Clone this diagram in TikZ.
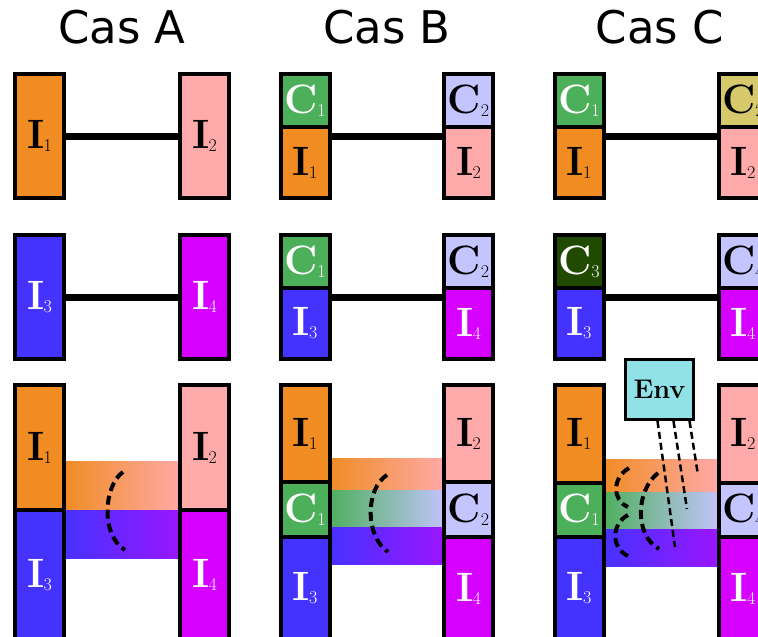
\documentclass[tikz,border=0pt]{standalone}
\usepackage{fontspec}
\newfontfamily\titlefont{DejaVu Sans}
\definecolor{cOr}{HTML}{F08C22}
\definecolor{cPk}{HTML}{FFAAAA}
\definecolor{cBl}{HTML}{4433FF}
\definecolor{cMg}{HTML}{D500FF}
\definecolor{cMb}{HTML}{9C14FF}
\definecolor{cGr}{HTML}{4CAF5A}
\definecolor{cLv}{HTML}{C4C4FF}
\definecolor{cOl}{HTML}{D5C96B}
\definecolor{cDg}{HTML}{1F4A00}
\definecolor{cEnv}{HTML}{91E2E6}
\newcommand\lab[2]{\textbf{#1}\kern-0.5pt\raisebox{-3pt}{\fontsize{18}{18}\selectfont\mdseries #2}}
\tikzset{
  part/.style={draw, line width=4pt, minimum width=49pt, inner sep=0pt,
    font=\fontsize{41}{41}\selectfont},
  colbox/.style={draw, line width=4pt, minimum width=49pt, inner sep=0pt},
  conn/.style={line width=7pt},
  arcd/.style={line width=4pt, dash pattern=on 9pt off 5pt},
  envd/.style={line width=2.5pt, dash pattern=on 7pt off 4pt},
  title/.style={font=\titlefont\fontsize{45}{45}\selectfont, anchor=base},
  blk/.style={text=black},
  wht/.style={text=white},
}
\begin{document}
\begin{tikzpicture}[x=1pt,y=-1pt]
\useasboundingbox (0,0) rectangle (758,637);
\clip (0,0) rectangle (758,637);
\fill[white] (0,0) rectangle (758,637);

% titles
\node[title] (tA) at (122,43) {Cas A};
\node[title] (tB) at (387,43) {Cas B};
\node[title] (tC) at (660,43) {Cas C};

% ---------- bands (row 3) ----------
\shade[left color=cOr, right color=cPk] (62,461) rectangle (184,510);
\shade[left color=cBl, right color=cMb] (62,510) rectangle (184,558);

\shade[left color=cOr, right color=cPk] (327,458) rectangle (447,490);
\shade[left color=cGr, right color=cLv] (327,490) rectangle (447,527);
\shade[left color=cBl, right color=cMb] (327,527) rectangle (447,564);

\shade[left color=cOr, right color=cPk] (601,459) rectangle (721,492);
\shade[left color=cGr, right color=cLv] (601,492) rectangle (721,529);
\shade[left color=cBl, right color=cMb] (601,529) rectangle (721,566);

% ---------- Cas A ----------
\node[part, fill=cOr, blk, minimum height=124pt] (aI1) at (39.5,136) {\lab I1};
\node[part, fill=cPk, blk, minimum height=124pt] (aI2) at (204.5,136) {\lab I2};
\node[part, fill=cBl, wht, minimum height=124pt] (aI3) at (39.5,297) {\lab I3};
\node[part, fill=cMg, wht, minimum height=124pt] (aI4) at (204.5,297) {\lab I4};
\draw[conn] (aI1.east) -- (aI2.west);
\draw[conn] (aI3.east) -- (aI4.west);

\node[part, fill=cOr, blk, minimum height=125pt] (aJ1) at (39.5,447.5) {\lab I1};
\node[part, fill=cBl, wht, minimum height=130pt] (aJ3) at (39.5,575) {\lab I3};
\node[part, fill=cPk, blk, minimum height=125pt] (aJ2) at (204.5,447.5) {\lab I2};
\node[part, fill=cMg, wht, minimum height=130pt] (aJ4) at (204.5,575) {\lab I4};

% ---------- Cas B ----------
\node[part, fill=cGr, wht, minimum height=53pt] (bC1) at (305,100.5) {\lab C1};
\node[part, fill=cOr, blk, minimum height=71pt] (bI1) at (305,162.5) {\lab I1};
\node[part, fill=cLv, blk, minimum height=53pt] (bC2) at (468.5,100.5) {\lab C2};
\node[part, fill=cPk, blk, minimum height=71pt] (bI2) at (468.5,162.5) {\lab I2};
\node[colbox, minimum height=124pt] (bL1) at (305,136) {};
\node[colbox, minimum height=124pt] (bR1) at (468.5,136) {};
\draw[conn] (bL1.east) -- (bR1.west);

\node[part, fill=cGr, wht, minimum height=53pt] (bC3) at (305,261.5) {\lab C1};
\node[part, fill=cBl, wht, minimum height=71pt] (bI3) at (305,323.5) {\lab I3};
\node[part, fill=cLv, blk, minimum height=53pt] (bC4) at (468.5,261.5) {\lab C2};
\node[part, fill=cMg, wht, minimum height=71pt] (bI4) at (468.5,323.5) {\lab I4};
\node[colbox, minimum height=124pt] (bL2) at (305,297) {};
\node[colbox, minimum height=124pt] (bR2) at (468.5,297) {};
\draw[conn] (bL2.east) -- (bR2.west);

\node[part, fill=cOr, blk, minimum height=97pt] (bJ1) at (305,433.5) {\lab I1};
\node[part, fill=cGr, wht, minimum height=55pt] (bK1) at (305,509.5) {\lab C1};
\node[part, fill=cBl, wht, minimum height=103pt] (bJ3) at (305,588.5) {\lab I3};
\node[part, fill=cPk, blk, minimum height=97pt] (bJ2) at (468.5,433.5) {\lab I2};
\node[part, fill=cLv, blk, minimum height=55pt] (bK2) at (468.5,509.5) {\lab C2};
\node[part, fill=cMg, wht, minimum height=103pt] (bJ4) at (468.5,588.5) {\lab I4};

% ---------- Cas C ----------
\node[part, fill=cGr, wht, minimum height=53pt] (cC1) at (579,100.5) {\lab C1};
\node[part, fill=cOr, blk, minimum height=71pt] (cI1) at (579,162.5) {\lab I1};
\node[part, fill=cOl, blk, minimum height=53pt] (cC2) at (743,100.5) {\lab C2};
\node[part, fill=cPk, blk, minimum height=71pt] (cI2) at (743,162.5) {\lab I2};
\node[colbox, minimum height=124pt] (cL1) at (579,136) {};
\node[colbox, minimum height=124pt] (cR1) at (743,136) {};
\draw[conn] (cL1.east) -- (cR1.west);

\node[part, fill=cDg, wht, minimum height=53pt] (cC3) at (579,261.5) {\lab C3};
\node[part, fill=cBl, wht, minimum height=71pt] (cI3) at (579,323.5) {\lab I3};
\node[part, fill=cLv, blk, minimum height=53pt] (cC4) at (743,261.5) {\lab C4};
\node[part, fill=cMg, wht, minimum height=71pt] (cI4) at (743,323.5) {\lab I4};
\node[colbox, minimum height=124pt] (cL2) at (579,297) {};
\node[colbox, minimum height=124pt] (cR2) at (743,297) {};
\draw[conn] (cL2.east) -- (cR2.west);

\node[part, fill=cOr, blk, minimum height=98pt] (cJ1) at (579,434) {\lab I1};
\node[part, fill=cGr, wht, minimum height=54pt] (cK1) at (579,510) {\lab C1};
\node[part, fill=cBl, wht, minimum height=103pt] (cJ3) at (579,588.5) {\lab I3};
\node[part, fill=cPk, blk, minimum height=98pt] (cJ2) at (743,434) {\lab I2};
\node[part, fill=cLv, blk, minimum height=54pt] (cK2) at (743,510) {\lab C4};
\node[part, fill=cMg, wht, minimum height=103pt] (cJ4) at (743,588.5) {\lab I4};

% ---------- dashed arcs ----------
\draw[arcd] (123,472) .. controls (104,485) and (100,535) .. (125,550);
\draw[arcd] (387,475) .. controls (366,488) and (364,535) .. (388,552);
\draw[arcd] (658,473) .. controls (636,490) and (634,535) .. (659,549);
\draw[arcd] (629,468) .. controls (612,478) and (612,500) .. (628,507);
\draw[arcd] (628,515) .. controls (611,524) and (611,548) .. (628,556);

% ---------- Env ----------
\node[draw, line width=3pt, fill=cEnv, minimum width=68pt, minimum height=60pt,
  inner sep=0pt, font=\bfseries\fontsize{27}{27}\selectfont] (env) at (659.5,389.5) {Env};
\coordinate (e1) at (675,547);
\coordinate (e2) at (687,509);
\coordinate (e3) at (698,475);
\draw[envd] ([xshift=33.5pt]env.south west) -- (e1);
\draw[envd] ([xshift=49.5pt]env.south west) -- (e2);
\draw[envd] ([xshift=65.5pt]env.south west) -- (e3);
\end{tikzpicture}
\end{document}
